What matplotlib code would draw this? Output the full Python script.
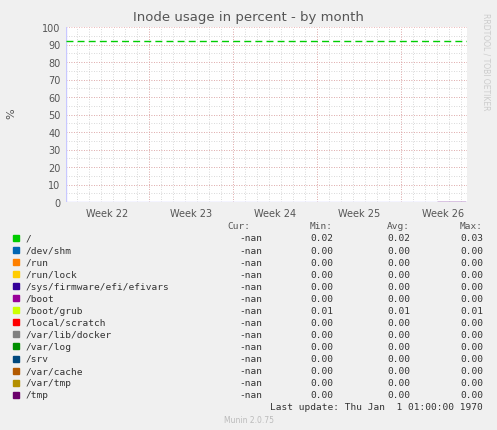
import matplotlib
matplotlib.use("Agg")
import matplotlib.pyplot as plt
import numpy as np

names = ["/", "/dev/shm", "/run", "/run/lock", "/sys/firmware/efi/efivars", "/boot", "/boot/grub",
         "/local/scratch", "/var/lib/docker", "/var/log", "/srv", "/var/cache", "/var/tmp", "/tmp"]
colors = ["#00cc00", "#0066b3", "#ff8000", "#ffcc00", "#330099", "#990099", "#ccff00",
          "#ff0000", "#808080", "#008f00", "#00487d", "#b35a00", "#b38f00", "#6b006b"]
cur = ["-nan"] * 14
mins = ["0.02", "0.00", "0.00", "0.00", "0.00", "0.00", "0.01", "0.00", "0.00", "0.00", "0.00", "0.00", "0.00", "0.00"]
avgs = ["0.02", "0.00", "0.00", "0.00", "0.00", "0.00", "0.01", "0.00", "0.00", "0.00", "0.00", "0.00", "0.00", "0.00"]
maxs = ["0.03", "0.00", "0.00", "0.00", "0.00", "0.00", "0.01", "0.00", "0.00", "0.00", "0.00", "0.00", "0.00", "0.00"]
week_labels = ["Week 22", "Week 23", "Week 24", "Week 25", "Week 26"]
week_starts = [6.9, 13.9, 20.9, 27.9]
span = 33.4
warning = 92
recent_x = [31.0, 33.2]
recent_y = [0.03, 0.03]

W, H = 497, 431
fig = plt.figure(figsize=(W/100, H/100), dpi=100)
fig.patch.set_facecolor("#f0f0f0")
ax = fig.add_axes([66/W, 1-203/H, (467-66)/W, (203-28)/H])
ax.set_facecolor("white")
ax.set_xlim(0, span)
ax.set_ylim(0, 100)
for d in np.arange(week_starts[0] % 1, span, 1.0):
    ax.axvline(d, color="#cccccc", lw=0.6, ls=(0, (1, 2)), zorder=0)
for y in range(5, 100, 5):
    ax.axhline(y, color="#cccccc", lw=0.6, ls=(0, (1, 2)), zorder=0)
for d in week_starts:
    ax.axvline(d, color="#e8a0a0", lw=0.6, ls=(0, (1, 2)), zorder=1)
for y in range(10, 101, 10):
    ax.axhline(y, color="#e8a0a0", lw=0.6, ls=(0, (1, 2)), zorder=1)
ax.axhline(warning, color="#00cc00", lw=1, ls=(0, (5, 3)), zorder=3)
ax.plot(recent_x, recent_y, color="#6b006b", lw=1, zorder=4)
for s in ax.spines.values():
    s.set_visible(False)
ax.axhline(0, color="#c8c8ff", lw=1, zorder=2)
ax.axvline(0, color="#c8c8ff", lw=1, zorder=2)
ax.set_yticks(range(0, 101, 10))
centers = [week_starts[0] - 3.5] + [w + 3.5 for w in week_starts]
ax.set_xticks(centers)
ax.set_xticklabels(week_labels)
ax.tick_params(length=0, labelsize=7, colors="#555555", pad=4)
fig.text(11/W, 1-114/H, "%", rotation=90, ha="center", va="center", fontsize=8, color="#555555")
fig.text(0.5, 1-18/H, "Inode usage in percent - by month", ha="center", va="center", fontsize=9.5, color="#555555")
fig.text(486/W, 1-62/H, "RRDTOOL / TOBI OETIKER", rotation=270, ha="center", va="center", fontsize=5.5, color="#cccccc")

fs = 6.8
y0 = 227
fig.text(250/W, 1-y0/H, "Cur:", ha="right", va="center", fontsize=fs, family="DejaVu Sans Mono", color="#555555")
fig.text(333/W, 1-y0/H, "Min:", ha="right", va="center", fontsize=fs, family="DejaVu Sans Mono", color="#555555")
fig.text(410/W, 1-y0/H, "Avg:", ha="right", va="center", fontsize=fs, family="DejaVu Sans Mono", color="#555555")
fig.text(483/W, 1-y0/H, "Max:", ha="right", va="center", fontsize=fs, family="DejaVu Sans Mono", color="#555555")
for i, n in enumerate(names):
    y = 1 - (y0 + 12 + i * 12.05) / H
    fig.patches.append(plt.Rectangle((13/W, y - 3/H), 6/W, 6/H, transform=fig.transFigure, color=colors[i]))
    fig.text(26/W, y, n, ha="left", va="center", fontsize=fs, family="DejaVu Sans Mono", color="#333333")
    for xr, v in zip([262, 333, 410, 483], [cur[i], mins[i], avgs[i], maxs[i]]):
        fig.text(xr/W, y, v, ha="right", va="center", fontsize=fs, family="DejaVu Sans Mono", color="#333333")
fig.text(483/W, 1-408/H, "Last update: Thu Jan  1 01:00:00 1970", ha="right", va="center", fontsize=fs, family="DejaVu Sans Mono", color="#333333")
fig.text(0.5, 1-421/H, "Munin 2.0.75", ha="center", va="center", fontsize=5.5, color="#bbbbbb")
fig.savefig("out.png", dpi=100, facecolor=fig.get_facecolor())
